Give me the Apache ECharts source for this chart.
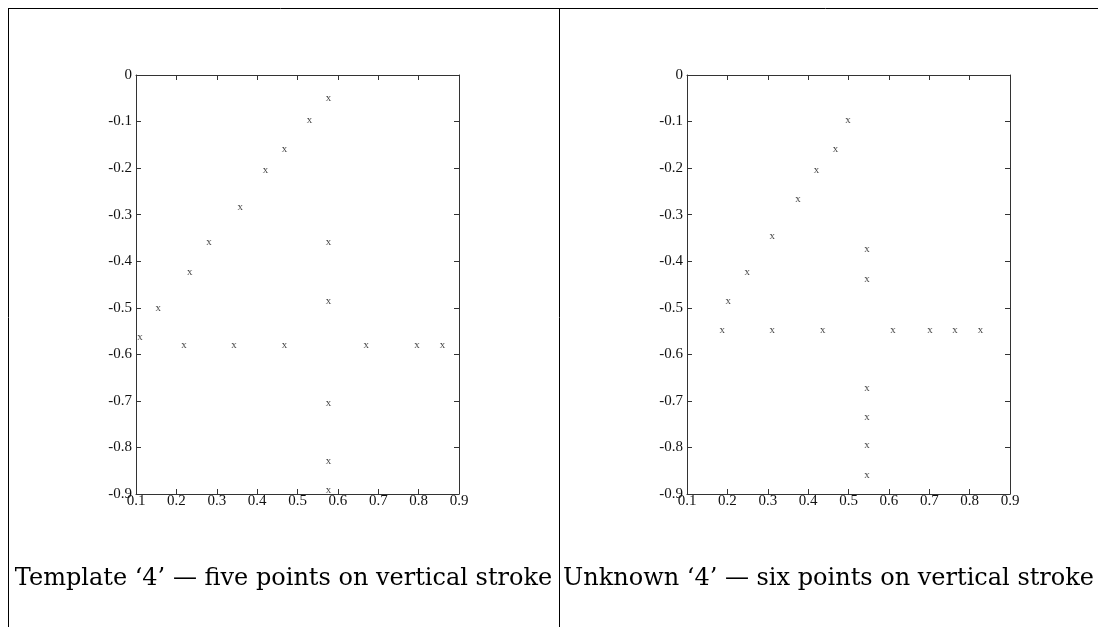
<!DOCTYPE html>
<html>
<head>
<meta charset="utf-8">
<title>Template vs Unknown '4'</title>
<script src="https://cdn.jsdelivr.net/npm/echarts@6/dist/echarts.min.js"></script>
<style>
    html, body { margin: 0; padding: 0; background: #fff; }
    #chart { width: 1098px; height: 628px; }
</style>
</head>
<body>
<div id="chart"></div>
<script>
// 模板 '4' 的采样点
let templateX = [0.577, 0.530, 0.468, 0.421, 0.358, 0.281, 0.233, 0.155, 0.110,
    0.219, 0.343, 0.468, 0.670, 0.796, 0.859,
    0.577, 0.577, 0.577, 0.577, 0.577];
let templateY = [-0.049, -0.097, -0.159, -0.204, -0.284, -0.360, -0.423, -0.500, -0.563,
    -0.580, -0.580, -0.580, -0.580, -0.580, -0.580,
    -0.360, -0.485, -0.704, -0.829, -0.891];

// 未知 '4' 的采样点
let unknownX = [0.499, 0.468, 0.421, 0.375, 0.311, 0.249, 0.202,
    0.187, 0.311, 0.436, 0.610, 0.702, 0.764, 0.827,
    0.546, 0.546, 0.546, 0.546, 0.546, 0.546];
let unknownY = [-0.097, -0.159, -0.204, -0.266, -0.346, -0.423, -0.485,
    -0.548, -0.548, -0.548, -0.548, -0.548, -0.548, -0.548,
    -0.375, -0.438, -0.672, -0.734, -0.796, -0.859];

let captions = ['Template \u20184\u2019 \u2014 five points on vertical stroke',
    'Unknown \u20184\u2019 \u2014 six points on vertical stroke'];

let axisFont = 'Liberation Serif';
let axisColor = '#333';

function zip(xs, ys) {
    return xs.map(function (x, i) { return [x, ys[i]]; });
}

// 坐标轴：主轴带刻度标签，镜像轴只画向内的刻度
function makeX(gridIndex, position, withLabels) {
    return {
        type: 'value', gridIndex: gridIndex, position: position,
        min: 0.1, max: 0.9, interval: 0.1,
        axisLine: { show: true, onZero: false, lineStyle: { color: axisColor, width: 1 } },
        axisTick: { show: true, inside: true, length: 5, lineStyle: { color: axisColor } },
        axisLabel: {
            show: withLabels, margin: 0, color: '#111',
            fontFamily: axisFont, fontSize: 15,
            showMinLabel: true, showMaxLabel: true
        },
        splitLine: { show: false }
    };
}

function makeY(gridIndex, position, withLabels) {
    return {
        type: 'value', gridIndex: gridIndex, position: position,
        min: -0.9, max: 0, interval: 0.1,
        axisLine: { show: true, onZero: false, lineStyle: { color: axisColor, width: 1 } },
        axisTick: { show: true, inside: true, length: 5, lineStyle: { color: axisColor } },
        axisLabel: {
            show: withLabels, margin: 4, color: '#111',
            fontFamily: axisFont, fontSize: 15,
            showMinLabel: true, showMaxLabel: true
        },
        splitLine: { show: false }
    };
}

function makeSeries(idx, data) {
    return {
        type: 'scatter',
        xAxisIndex: idx * 2,
        yAxisIndex: idx * 2,
        data: data,
        symbol: 'circle',
        symbolSize: 1,
        itemStyle: { color: 'rgba(0,0,0,0)' },
        label: {
            show: true,
            position: 'inside',
            formatter: 'x',
            fontFamily: axisFont,
            fontSize: 11,
            color: '#111'
        },
        emphasis: { disabled: true },
        silent: true
    };
}

let chart = echarts.init(document.getElementById('chart'), null, { renderer: 'canvas' });

let option = {
    backgroundColor: '#fff',
    animation: false,
    grid: [
        { left: 136, top: 75, width: 323, height: 419 },
        { left: 687, top: 75, width: 323, height: 419 }
    ],
    xAxis: [
        makeX(0, 'bottom', true), makeX(0, 'top', false),
        makeX(1, 'bottom', true), makeX(1, 'top', false)
    ],
    yAxis: [
        makeY(0, 'left', true), makeY(0, 'right', false),
        makeY(1, 'left', true), makeY(1, 'right', false)
    ],
    series: [
        makeSeries(0, zip(templateX, templateY)),
        makeSeries(1, zip(unknownX, unknownY))
    ],
    graphic: [
        // 外框线
        { type: 'line', shape: { x1: 8, y1: 8.5, x2: 1098, y2: 8.5 }, style: { stroke: '#000', lineWidth: 1 } },
        { type: 'line', shape: { x1: 8.5, y1: 8, x2: 8.5, y2: 627 }, style: { stroke: '#000', lineWidth: 1 } },
        { type: 'line', shape: { x1: 559.5, y1: 8, x2: 559.5, y2: 627 }, style: { stroke: '#000', lineWidth: 1 } },
        // 标题
        {
            type: 'text', x: 283.5, y: 579,
            style: {
                text: captions[0], fill: '#000', align: 'center', verticalAlign: 'middle',
                font: '24px "DejaVu Serif"'
            }
        },
        {
            type: 'text', x: 828.5, y: 579,
            style: {
                text: captions[1], fill: '#000', align: 'center', verticalAlign: 'middle',
                font: '24px "DejaVu Serif"'
            }
        }
    ]
};

chart.setOption(option);
</script>
</body>
</html>
